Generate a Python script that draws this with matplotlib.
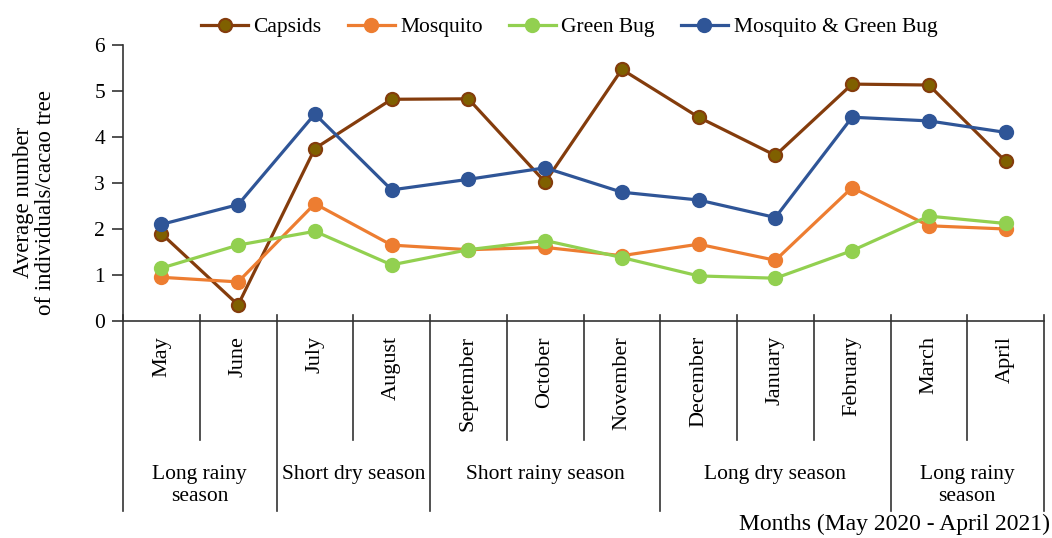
import numpy as np
import matplotlib.pyplot as plt
import matplotlib.transforms as mtransforms

plt.rcParams['font.family'] = ['Liberation Serif', 'DejaVu Serif']

months = ['May', 'June', 'July', 'August', 'September', 'October', 'November',
          'December', 'January', 'February', 'March', 'April']
seasons = ['Long rainy\nseason', 'Short dry season', 'Short rainy season',
           'Long dry season', 'Long rainy\nseason']
season_bounds = [0, 2, 4, 7, 10, 12]

capsids = [1.90, 0.35, 3.75, 4.82, 4.83, 3.02, 5.47, 4.43, 3.60, 5.15, 5.13, 3.47]
mosquito = [0.95, 0.85, 2.55, 1.65, 1.55, 1.60, 1.42, 1.67, 1.32, 2.90, 2.07, 2.00]
green_bug = [1.15, 1.65, 1.95, 1.22, 1.55, 1.75, 1.38, 0.98, 0.93, 1.53, 2.28, 2.12]
mosq_green = [2.10, 2.53, 4.50, 2.85, 3.08, 3.33, 2.80, 2.63, 2.25, 4.43, 4.35, 4.10]

series = [
    ('Capsids', capsids, '#843C0C', '#7F6000'),
    ('Mosquito', mosquito, '#ED7D31', '#ED7D31'),
    ('Green Bug', green_bug, '#92D050', '#92D050'),
    ('Mosquito & Green Bug', mosq_green, '#2F5597', '#2F5597'),
]

fig = plt.figure(figsize=(10.52, 5.38), dpi=100)
ax = fig.add_axes([123 / 1052, 1 - 321 / 538, (1044 - 123) / 1052, 276 / 538])

x = np.arange(len(months))
for name, vals, lc, fc in series:
    ax.plot(x, vals, color=lc, lw=2.3, marker='o', markersize=9.5,
            markerfacecolor=fc, markeredgecolor=lc, markeredgewidth=1.5,
            label=name)

ax.set_xlim(-0.5, 11.5)
ax.set_ylim(0, 6)
ax.set_yticks(range(7))
ax.tick_params(axis='y', labelsize=15.5, length=8, width=1.2, direction='out',
               color='#333333', pad=5)
ax.set_xticks([])
for s in ['top', 'right']:
    ax.spines[s].set_visible(False)
for s in ['left', 'bottom']:
    ax.spines[s].set_linewidth(1.2)
    ax.spines[s].set_color('#333333')

trans = mtransforms.blended_transform_factory(ax.transData, ax.transAxes)
for i in range(13):
    bottom = -0.688 if i in season_bounds else -0.431
    ax.plot([i - 0.5, i - 0.5], [0.02, bottom], color='#333333', lw=1.2,
            transform=trans, clip_on=False)

for i, m in enumerate(months):
    ax.text(i, -0.055, m, rotation=90, ha='center', va='top', fontsize=16,
            transform=trans)

for k, s in enumerate(seasons):
    c = (season_bounds[k] + season_bounds[k + 1]) / 2 - 0.5
    ax.text(c, -0.52, s, ha='center', va='top', fontsize=15.5,
            transform=trans, linespacing=1.25)

ax.set_ylabel('Average number\nof individuals/cacao tree', fontsize=16.5,
              linespacing=1.05)
ax.yaxis.set_label_coords(-0.073, 0.43)
fig.text(1050 / 1052, 1 - 524 / 538, 'Months (May 2020 - April 2021)',
         ha='right', va='center', fontsize=17)

fig.legend(loc='center', bbox_to_anchor=(569 / 1052, 1 - 27 / 538), ncol=4,
           frameon=False, fontsize=15.5, handlelength=2.2, columnspacing=1.2,
           handletextpad=0.25)

fig.savefig('out.png', dpi=100)
